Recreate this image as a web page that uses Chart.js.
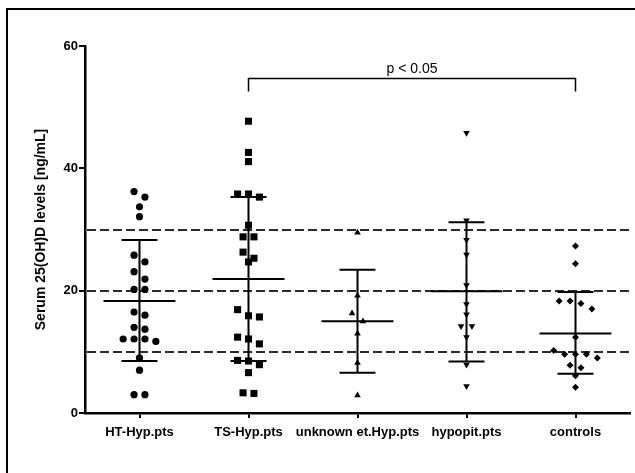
<!DOCTYPE html>
<html>
<head>
<meta charset="utf-8">
<script src="https://cdn.jsdelivr.net/npm/chart.js@4.4.0/dist/chart.umd.min.js"></script>
<style>
    html, body { margin: 0; padding: 0; background: #fff; }
    #wrap { position: relative; width: 635px; height: 473px; overflow: hidden; }
    #frame {
        position: absolute; left: 6px; top: 8px; width: 700px; height: 600px;
        border-left: 2px solid #000; border-top: 2px solid #000;
    }
    #chart { position: absolute; left: 0; top: 0; }
</style>
</head>
<body>
<div id="wrap">
    <div id="frame"></div>
    <canvas id="chart" width="635" height="473"></canvas>
</div>
<script>
// groups on the x axis
const groups = ['HT-Hyp.pts', 'TS-Hyp.pts', 'unknown et.Hyp.pts', 'hypopit.pts', 'controls'];

// individual serum 25(OH)D values per group [ng/mL]
const htValues = [36.2, 35.3, 33.7, 32.1, 25.8, 24.7, 23.1, 21.9, 20.2, 20.2, 16.5, 16.0,
    14.0, 13.7, 12.1, 12.1, 12.1, 11.7, 9.0, 7.0, 3.0, 3.0];
const tsValues = [47.7, 42.6, 41.1, 35.8, 35.8, 35.3, 30.7, 28.8, 28.8, 26.3, 25.3, 24.7,
    16.9, 15.9, 15.7, 12.4, 12.1, 11.3, 8.6, 8.5, 7.9, 6.6, 3.3, 3.2];
const unknownValues = [29.5, 19.2, 16.3, 15.0, 13.0, 8.2, 2.9];
const hypopitValues = [45.8, 31.5, 28.3, 25.9, 20.9, 17.8, 16.1, 14.2, 14.2, 12.4, 7.9, 4.4];
const controlValues = [27.3, 24.4, 18.3, 18.3, 17.9, 17.0, 12.4, 10.2, 9.6, 9.6, 9.6, 9.0,
    7.8, 7.4, 6.1, 4.2];

// mean and SD limits as drawn
const means = [18.3, 21.9, 15.0, 19.9, 13.0];
const sdHigh = [28.3, 35.3, 23.4, 31.2, 19.8];
const sdLow = [8.5, 8.5, 6.6, 8.4, 6.4];

// reference lines and significance bracket
const refLines = [10, 20, 30];
const bracketGroups = [2, 5];
const bracketLevel = 54.7;
const bracketLabel = 'p < 0.05';

const yTicks = [0, 20, 40, 60];

const FONT = "'Liberation Sans', Arial, sans-serif";
const ROW_GAP = 1.35;   // values closer than this share a row
const SPREAD = 0.1;     // horizontal step inside a row (x units)

/**
 * Spread close values sideways like a column scatter plot
 */
function swarm(values, center) {
    const sorted = values.slice().sort((a, b) => b - a);
    const rows = [];
    sorted.forEach(v => {
        const row = rows[rows.length - 1];
        if (row && row[0] - v < ROW_GAP) row.push(v);
        else rows.push([v]);
    });
    const pts = [];
    rows.forEach(row => {
        row.forEach((v, i) => {
            pts.push({ x: center + (i - (row.length - 1) / 2) * SPREAD, y: v });
        });
    });
    return pts;
}

const seriesValues = [htValues, tsValues, unknownValues, hypopitValues, controlValues];
const markers = [
    { style: 'circle', radius: 3.6, rotation: 0 },
    { style: 'rect', radius: 5, rotation: 0 },
    { style: 'triangle', radius: 3.8, rotation: 0 },
    { style: 'triangle', radius: 3.8, rotation: 180 },
    { style: 'rectRot', radius: 3.5, rotation: 0 },
];

const datasets = seriesValues.map((vals, i) => ({
    label: groups[i],
    data: swarm(vals, i + 1),
    pointStyle: markers[i].style,
    pointRadius: markers[i].radius,
    pointRotation: markers[i].rotation,
    pointBackgroundColor: '#000',
    pointBorderColor: '#000',
    pointBorderWidth: 0,
    showLine: false,
}));

const refLinePlugin = {
    id: 'refLines',
    beforeDatasetsDraw(chart) {
        const { ctx, chartArea, scales } = chart;
        ctx.save();
        ctx.strokeStyle = '#2a2a2a';
        ctx.lineWidth = 2;
        ctx.setLineDash([9, 4]);
        refLines.forEach(v => {
            const y = Math.round(scales.y.getPixelForValue(v));
            ctx.beginPath();
            ctx.moveTo(chartArea.left + 2, y);
            ctx.lineTo(chartArea.right, y);
            ctx.stroke();
        });
        ctx.restore();
    }
};

const errorBarPlugin = {
    id: 'errorBars',
    afterDatasetsDraw(chart) {
        const { ctx, scales } = chart;
        const x = scales.x, y = scales.y;
        ctx.save();
        ctx.strokeStyle = '#000';
        ctx.lineWidth = 2;
        means.forEach((m, i) => {
            const c = i + 1;
            const cx = x.getPixelForValue(c);
            const yTop = y.getPixelForValue(sdHigh[i]);
            const yBot = y.getPixelForValue(sdLow[i]);
            const yMean = y.getPixelForValue(m);
            ctx.beginPath();
            ctx.moveTo(cx, yTop);
            ctx.lineTo(cx, yBot);
            // caps
            ctx.moveTo(x.getPixelForValue(c - 0.165), yTop);
            ctx.lineTo(x.getPixelForValue(c + 0.165), yTop);
            ctx.moveTo(x.getPixelForValue(c - 0.165), yBot);
            ctx.lineTo(x.getPixelForValue(c + 0.165), yBot);
            // mean
            ctx.moveTo(x.getPixelForValue(c - 0.33), yMean);
            ctx.lineTo(x.getPixelForValue(c + 0.33), yMean);
            ctx.stroke();
        });
        ctx.restore();
    }
};

const bracketPlugin = {
    id: 'bracket',
    afterDraw(chart) {
        const { ctx, scales } = chart;
        const x1 = scales.x.getPixelForValue(bracketGroups[0]);
        const x2 = scales.x.getPixelForValue(bracketGroups[1]);
        const yLine = Math.round(scales.y.getPixelForValue(bracketLevel)) + 0.5;
        ctx.save();
        ctx.strokeStyle = '#000';
        ctx.lineWidth = 1.5;
        ctx.beginPath();
        ctx.moveTo(x1, yLine + 13);
        ctx.lineTo(x1, yLine);
        ctx.lineTo(x2, yLine);
        ctx.lineTo(x2, yLine + 13);
        ctx.stroke();
        ctx.fillStyle = '#000';
        ctx.font = `14px ${FONT}`;
        ctx.textAlign = 'center';
        ctx.textBaseline = 'alphabetic';
        ctx.fillText(bracketLabel, (x1 + x2) / 2, yLine - 6);
        ctx.restore();
    }
};

new Chart(document.getElementById('chart'), {
    type: 'scatter',
    data: { datasets },
    options: {
        responsive: false,
        animation: false,
        layout: { padding: { top: 46, right: 1, left: 0, bottom: 0 } },
        plugins: {
            legend: { display: false },
            tooltip: { enabled: false },
        },
        scales: {
            x: {
                type: 'linear',
                min: 0.5,
                max: 5.5,
                afterBuildTicks: (scale) => {
                    scale.ticks = groups.map((g, i) => ({ value: i + 1 }));
                },
                afterFit: (scale) => { scale.height = 60; },
                ticks: {
                    callback: (v) => groups[v - 1] || '',
                    color: '#000',
                    font: { family: FONT, size: 13, weight: 'bold' },
                    padding: 7,
                    maxRotation: 0,
                    autoSkip: false,
                },
                grid: {
                    drawOnChartArea: false,
                    drawTicks: true,
                    tickLength: 5,
                    color: '#000',
                    lineWidth: 2,
                },
                border: { display: true, color: '#000', width: 2.5 },
            },
            y: {
                min: 0,
                max: 60,
                afterBuildTicks: (scale) => {
                    scale.ticks = yTicks.map(v => ({ value: v }));
                },
                afterFit: (scale) => { scale.width = 85; },
                ticks: {
                    color: '#000',
                    font: { family: FONT, size: 13, weight: 'bold' },
                    padding: 1,
                },
                grid: {
                    drawOnChartArea: false,
                    drawTicks: true,
                    tickLength: 6,
                    color: '#000',
                    lineWidth: 2,
                },
                border: { display: true, color: '#000', width: 2.5 },
                title: {
                    display: true,
                    text: 'Serum 25(OH)D levels [ng/mL]',
                    color: '#000',
                    font: { family: FONT, size: 14, weight: 'bold' },
                    padding: { top: 33, bottom: 0 },
                },
            },
        },
    },
    plugins: [refLinePlugin, errorBarPlugin, bracketPlugin],
});
</script>
</body>
</html>
